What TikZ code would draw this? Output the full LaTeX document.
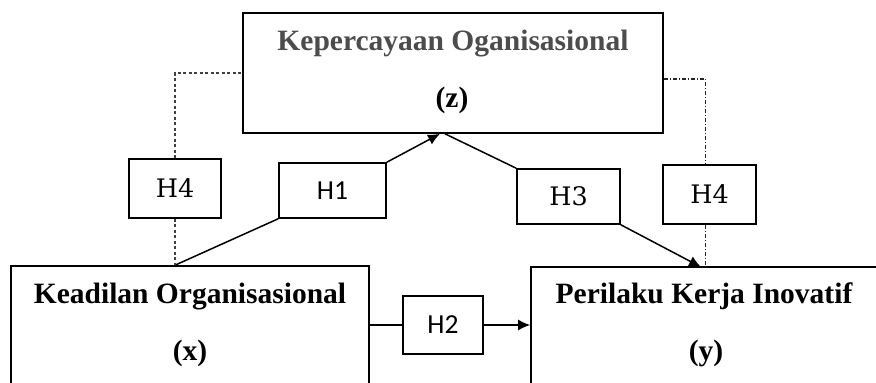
\documentclass[tikz,border=0pt]{standalone}
\usepackage{fontspec}
\setmainfont{Liberation Serif}
\newfontfamily\hsans{Carlito}
\newfontfamily\hserif{DejaVu Serif}
\usetikzlibrary{arrows.meta}

\begin{document}
\begin{tikzpicture}[x=1pt, y=1pt,
	varbox/.style={draw, line width=1.6pt, inner sep=0pt},
	hbox/.style={draw, line width=1.5pt, inner sep=0pt},
	vartext/.style={font=\fontsize{29.5}{34}\selectfont\bfseries, anchor=base, inner sep=0pt},
	serifh/.style={font=\fontsize{25.5}{30}\hserif},
	sansh/.style={font=\fontsize{27.5}{32}\hsans},
	link/.style={line width=1.5pt},
	arr/.style={line width=1.5pt, -{Latex[length=12pt,width=11pt]}},
	mediate/.style={line width=1.4pt, black!75, dash pattern=on 3pt off 2.5pt},
	mediatedot/.style={line width=1.4pt, black!85, dash pattern=on 4pt off 2pt on 1pt off 2pt}]
	\useasboundingbox (0,0) rectangle (876,-383);
	\clip (0,0) rectangle (876,-383);
	% variables
	\node[varbox, minimum width=420pt, minimum height=120pt] (z) at (453,-73) {};
	\node[varbox, minimum width=358pt, minimum height=150pt] (x) at (190,-341) {};
	\node[varbox, minimum width=380pt, minimum height=150pt] (y) at (721,-342) {};
	\node[vartext, black!70] (zt) at (453,-50) {Kepercayaan Oganisasional};
	\node[vartext] (zv) at (452,-107) {(z)};
	\node[vartext] (xt) at (190,-303) {Keadilan Organisasional};
	\node[vartext] (xv) at (190,-360) {(x)};
	\node[vartext] (yt) at (704,-303) {Perilaku Kerja Inovatif};
	\node[vartext] (yv) at (706,-360) {(y)};
	% hypotheses
	\node[hbox, serifh, minimum width=92pt, minimum height=59pt] (h4a) at (175,-188.5) {H4};
	\node[hbox, sansh, minimum width=107pt, minimum height=55pt] (h1) at (332.5,-190.5) {H1};
	\node[hbox, serifh, minimum width=103pt, minimum height=55pt] (h3) at (568.5,-196.5) {H3};
	\node[hbox, serifh, minimum width=93pt, minimum height=59pt] (h4b) at (709.5,-194.5) {H4};
	\node[hbox, sansh, minimum width=80pt, minimum height=58pt] (h2) at (443,-325) {H2};
	\coordinate (xh) at (h4a.south |- x.north);
	\coordinate (yin) at (701,-267);
	% paths
	\draw[link] (xh) -- (h1.south west);
	\draw[arr] (h1.north east) -- ([xshift=-13pt]z.south);
	\draw[link] ([xshift=-8pt]z.south) -- (h3.north west);
	\draw[arr] (h3.south east) -- (yin);
	\draw[link] (x.east |- h2.west) -- (h2.west);
	\draw[arr] (h2.east) -- (h2.east -| y.west);
	\draw[mediate] (h4a.north) |- (z.west);
	\draw[mediate] (h4a.south) -- (xh);
	\draw[mediatedot] ([yshift=-6pt]z.east) -| ([xshift=-4pt]h4b.north);
	\draw[mediatedot] ([xshift=-4pt]h4b.south) -- ([xshift=-4pt]h4b.south |- y.north);
\end{tikzpicture}
\end{document}
